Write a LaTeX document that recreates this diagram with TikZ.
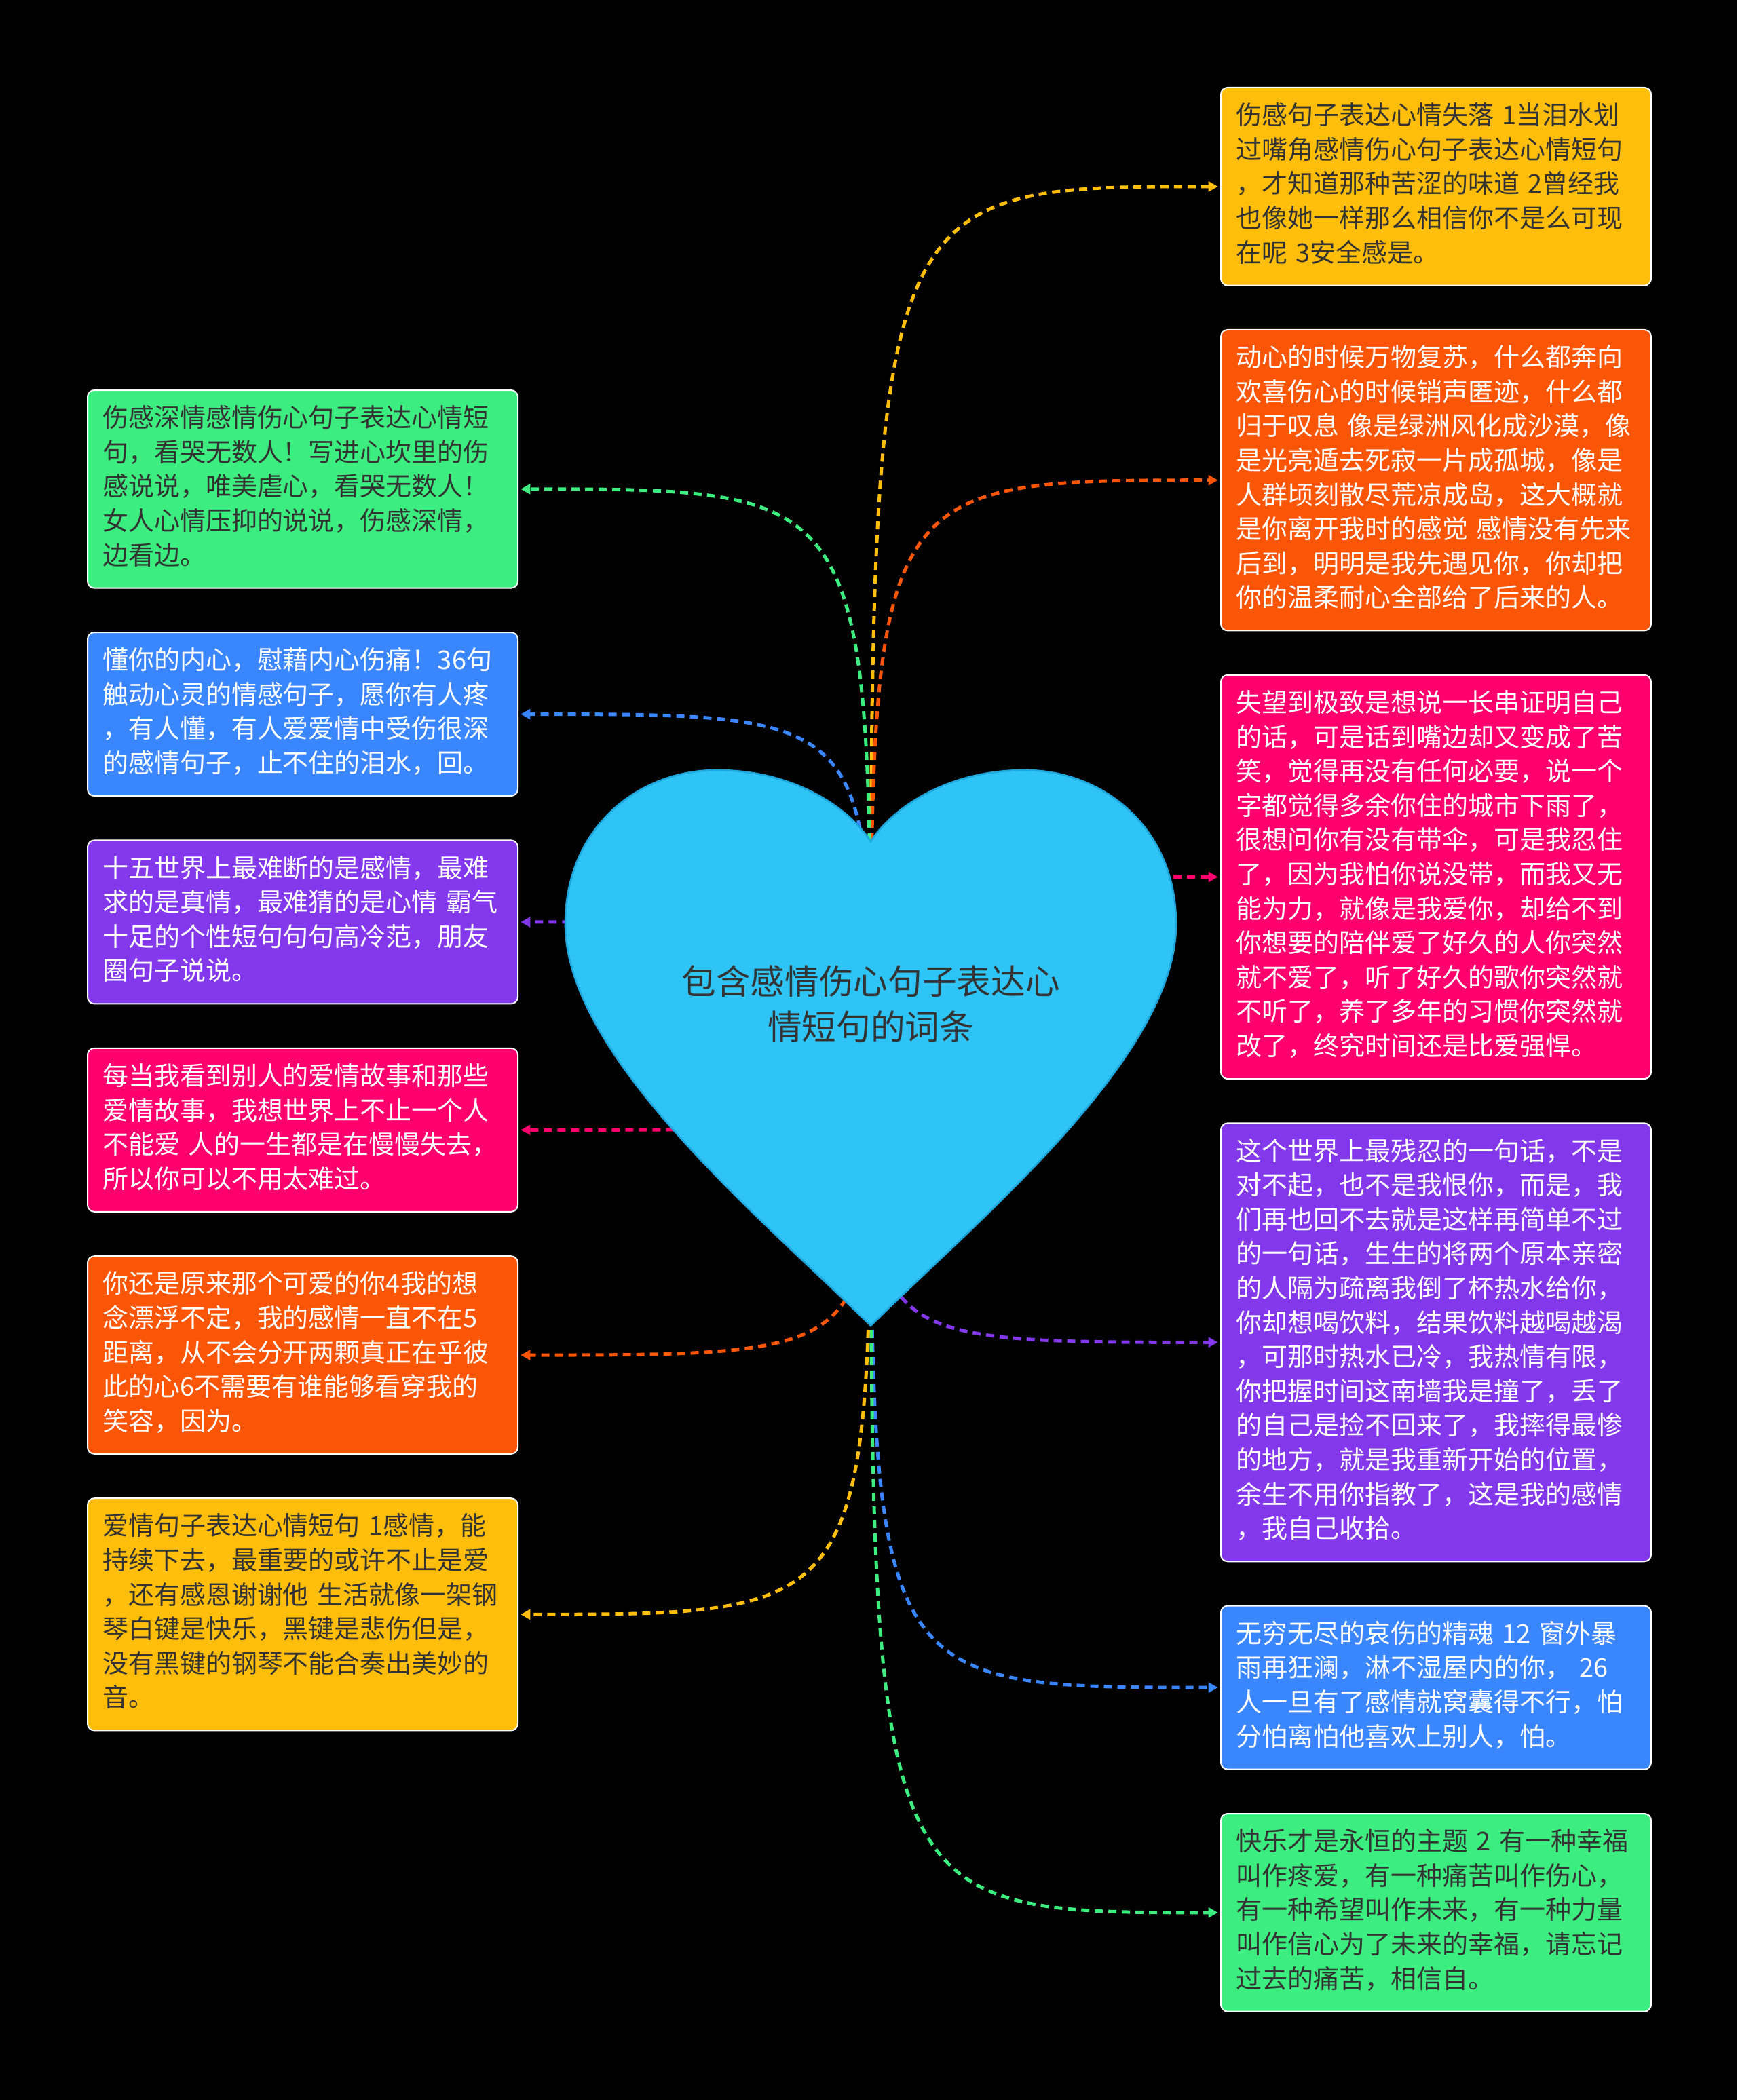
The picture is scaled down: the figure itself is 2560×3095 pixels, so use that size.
\documentclass[tikz,border=0pt]{standalone}
\usepackage{fontspec}
\setmainfont{Noto Sans CJK SC}
\usetikzlibrary{arrows.meta,positioning}
\definecolor{Sun}{HTML}{FFBE0B}
\definecolor{Ember}{HTML}{FB5607}
\definecolor{Rose}{HTML}{FF006E}
\definecolor{Violet}{HTML}{8338EC}
\definecolor{Azure}{HTML}{3A86FF}
\definecolor{Mint}{HTML}{3CEE80}
\definecolor{Sky}{HTML}{2EC4F5}
\definecolor{SkyEdge}{HTML}{1FA6DC}
\definecolor{Ink}{HTML}{333333}
\pgfdeclarelayer{backdrop}\pgfdeclarelayer{links}\pgfdeclarelayer{shape}
\pgfsetlayers{backdrop,links,shape,main}
\begin{document}
\begin{tikzpicture}[x=0.3pt,y=-0.3pt,
 card/.style={rounded corners=3pt,draw=white,line width=0.6pt,text width=177pt,inner xsep=6.6pt,inner ysep=5.8pt,align=left,font=\fontsize{11.4}{15.18}\selectfont,execute at begin node=\strut,execute at end node=\strut},
 warm/.style={card,fill=#1,text=Ink},
 cool/.style={card,fill=#1,text=white},
 branch/.style={draw=#1,line width=1.5pt,dash pattern=on 3.6pt off 2.4pt,-{Triangle[length=4.2pt,width=4.4pt]},shorten >=1pt}]
 \useasboundingbox (0,0) rectangle (2560,3095);
 \begin{pgfonlayer}{backdrop}\fill[black] (0,0) rectangle (2560,3095);\end{pgfonlayer}
 \node[font=\fontsize{15.2}{20.1}\selectfont,text=Ink,align=center](root) at (1283,1480){包含感情伤心句子表达心\\情短句的词条};
 \coordinate (hub) at ([yshift=-30pt]root.center);
 % right column
 \node[warm=Sun,anchor=north west](r1) at (1798,128){伤感句子表达心情失落 1当泪水划\\过嘴角感情伤心句子表达心情短句\\，才知道那种苦涩的味道 2曾经我\\也像她一样那么相信你不是么可现\\在呢 3安全感是。};
 \node[cool=Ember,below=19pt of r1](r2){动心的时候万物复苏，什么都奔向\\欢喜伤心的时候销声匿迹，什么都\\归于叹息 像是绿洲风化成沙漠，像\\是光亮遁去死寂一片成孤城，像是\\人群顷刻散尽荒凉成岛，这大概就\\是你离开我时的感觉 感情没有先来\\后到，明明是我先遇见你，你却把\\你的温柔耐心全部给了后来的人。};
 \node[cool=Rose,below=19pt of r2](r3){失望到极致是想说一长串证明自己\\的话，可是话到嘴边却又变成了苦\\笑，觉得再没有任何必要，说一个\\字都觉得多余你住的城市下雨了，\\很想问你有没有带伞，可是我忍住\\了，因为我怕你说没带，而我又无\\能为力，就像是我爱你，却给不到\\你想要的陪伴爱了好久的人你突然\\就不爱了，听了好久的歌你突然就\\不听了，养了多年的习惯你突然就\\改了，终究时间还是比爱强悍。};
 \node[cool=Violet,below=19pt of r3](r4){这个世界上最残忍的一句话，不是\\对不起，也不是我恨你，而是，我\\们再也回不去就是这样再简单不过\\的一句话，生生的将两个原本亲密\\的人隔为疏离我倒了杯热水给你，\\你却想喝饮料，结果饮料越喝越渴\\，可那时热水已冷，我热情有限，\\你把握时间这南墙我是撞了，丢了\\的自己是捡不回来了，我摔得最惨\\的地方，就是我重新开始的位置，\\余生不用你指教了，这是我的感情\\，我自己收拾。};
 \node[cool=Azure,below=19pt of r4](r5){无穷无尽的哀伤的精魂 12 窗外暴\\雨再狂澜，淋不湿屋内的你， 26\\人一旦有了感情就窝囊得不行，怕\\分怕离怕他喜欢上别人，怕。};
 \node[warm=Mint,below=19pt of r5](r6){快乐才是永恒的主题 2 有一种幸福\\叫作疼爱，有一种痛苦叫作伤心，\\有一种希望叫作未来，有一种力量\\叫作信心为了未来的幸福，请忘记\\过去的痛苦，相信自。};
 % left column
 \node[warm=Mint,anchor=north west](l1) at (128,574){伤感深情感情伤心句子表达心情短\\句，看哭无数人！写进心坎里的伤\\感说说，唯美虐心，看哭无数人！\\女人心情压抑的说说，伤感深情，\\边看边。};
 \node[cool=Azure,below=19pt of l1](l2){懂你的内心，慰藉内心伤痛！36句\\触动心灵的情感句子，愿你有人疼\\，有人懂，有人爱爱情中受伤很深\\的感情句子，止不住的泪水，回。};
 \node[cool=Violet,below=19pt of l2](l3){十五世界上最难断的是感情，最难\\求的是真情，最难猜的是心情 霸气\\十足的个性短句句句高冷范，朋友\\圈句子说说。};
 \node[cool=Rose,below=19pt of l3](l4){每当我看到别人的爱情故事和那些\\爱情故事，我想世界上不止一个人\\不能爱 人的一生都是在慢慢失去，\\所以你可以不用太难过。};
 \node[cool=Ember,below=19pt of l4](l5){你还是原来那个可爱的你4我的想\\念漂浮不定，我的感情一直不在5\\距离，从不会分开两颗真正在乎彼\\此的心6不需要有谁能够看穿我的\\笑容，因为。};
 \node[warm=Sun,below=19pt of l5](l6){爱情句子表达心情短句 1感情，能\\持续下去，最重要的或许不止是爱\\，还有感恩谢谢他 生活就像一架钢\\琴白键是快乐，黑键是悲伤但是，\\没有黑键的钢琴不能合奏出美妙的\\音。};
 % connectors leave a hub under the heart, the heart is laid over them
 \begin{pgfonlayer}{links}
 \draw[branch=Sun](hub)..controls(hub|-r1.west)..(r1.west);\draw[branch=Ember](hub)..controls(hub|-r2.west)..(r2.west);
 \draw[branch=Rose](hub)..controls(hub|-r3.west)..(r3.west);\draw[branch=Violet](hub)..controls(hub|-r4.west)..(r4.west);
 \draw[branch=Azure](hub)..controls(hub|-r5.west)..(r5.west);\draw[branch=Mint](hub)..controls(hub|-r6.west)..(r6.west);
 \draw[branch=Mint](hub)..controls(hub|-l1.east)..(l1.east);\draw[branch=Azure](hub)..controls(hub|-l2.east)..(l2.east);
 \draw[branch=Violet](hub)..controls(hub|-l3.east)..(l3.east);\draw[branch=Rose](hub)..controls(hub|-l4.east)..(l4.east);
 \draw[branch=Ember](hub)..controls(hub|-l5.east)..(l5.east);\draw[branch=Sun](hub)..controls(hub|-l6.east)..(l6.east);
 \end{pgfonlayer}
 \begin{pgfonlayer}{shape}
 \fill[Sky,draw=SkyEdge,line width=0.8pt,shift={(root.center)}](0,474)..controls(-150,324)and(-450,80)..(-450,-118)..controls(-450,-260)and(-343,-345)..(-227,-345)..controls(-113,-345)and(-33,-290)..(0,-240)..controls(33,-290)and(113,-345)..(227,-345)..controls(343,-345)and(450,-260)..(450,-118)..controls(450,80)and(150,324)..cycle;
 \end{pgfonlayer}
\end{tikzpicture}
\end{document}
